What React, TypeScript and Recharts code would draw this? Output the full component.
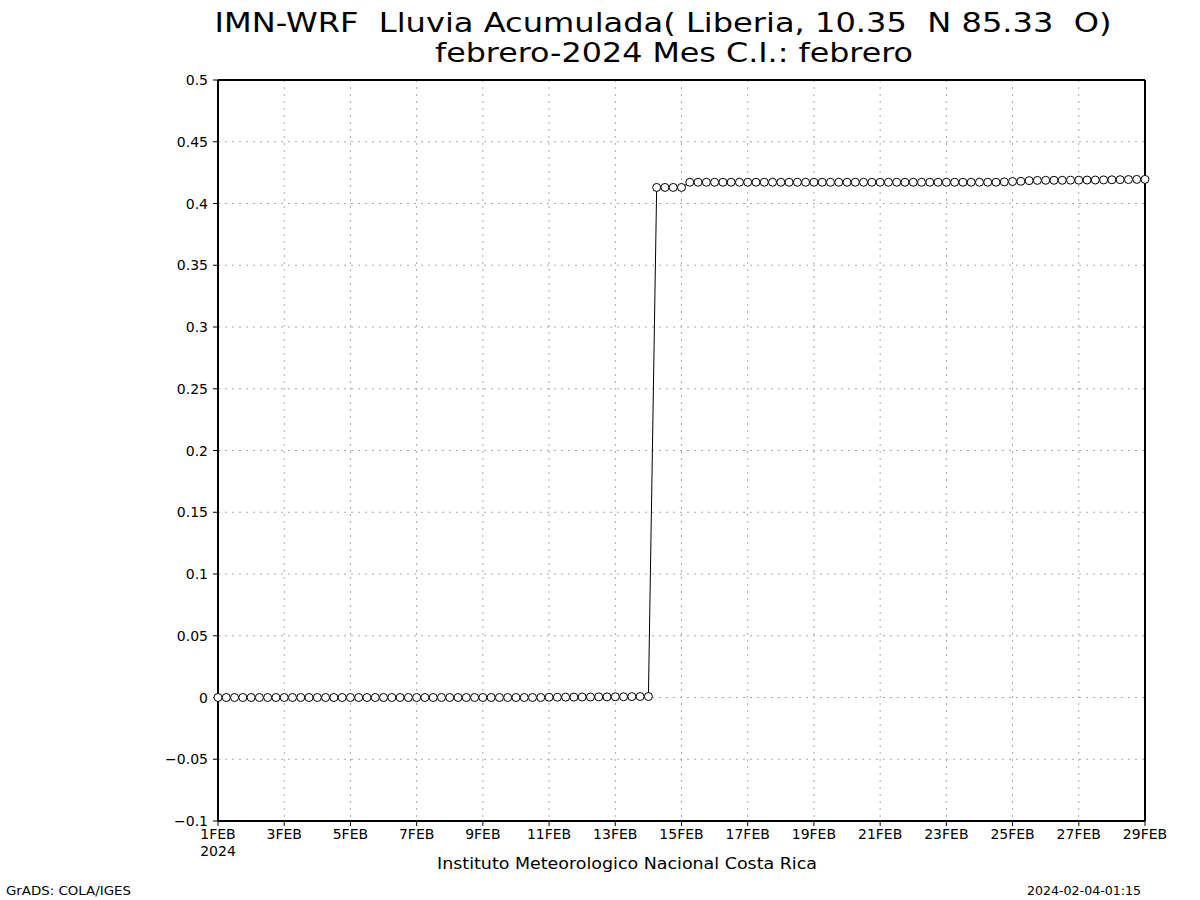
import React from 'react';
import { LineChart, Line, XAxis, YAxis, CartesianGrid, ReferenceLine } from 'recharts';

// 6-hourly accumulated rain (mm), 1FEB 00Z .. 29FEB 00Z
const rain: number[] = [
  0, 0, 0, 0, 0, 0, 0, 0, 0, 0,
  0, 0, 0, 0, 0, 0, 0, 0, 0, 0,
  0, 0, 0, 0, 0, 0, 0, 0, 0, 0,
  0, 0, 0, 0, 0, 0, 0, 0, 0, 0,
  0.0002, 0.0002, 0.0003, 0.0003, 0.0004, 0.0004, 0.0005, 0.0005, 0.0006, 0.0006,
  0.0007, 0.0008, 0.0008,
  0.413, 0.413, 0.413, 0.413,
  0.4172, 0.4172, 0.4172, 0.4172, 0.4172, 0.4172, 0.4172, 0.4172, 0.4172, 0.4172,
  0.4172, 0.4172, 0.4172, 0.4172, 0.4172, 0.4172, 0.4172, 0.4172, 0.4172, 0.4172,
  0.4172, 0.4172, 0.4172, 0.4172, 0.4172, 0.4172, 0.4172, 0.4172, 0.4172, 0.4172,
  0.4172, 0.4172, 0.4172, 0.4172, 0.4172, 0.4172, 0.4172, 0.4172, 0.4175, 0.4178,
  0.418, 0.4185, 0.4187, 0.4188, 0.4188, 0.4188, 0.4189, 0.4189, 0.419, 0.419,
  0.4191, 0.4192, 0.4193, 0.4194, 0.4195, 0.4195,
];

const xTicks = [0, 8, 16, 24, 32, 40, 48, 56, 64, 72, 80, 88, 96, 104, 112];
const xTickLabels = ['1FEB', '3FEB', '5FEB', '7FEB', '9FEB', '11FEB', '13FEB', '15FEB',
  '17FEB', '19FEB', '21FEB', '23FEB', '25FEB', '27FEB', '29FEB'];

const yTicks = [-0.1, -0.05, 0, 0.05, 0.1, 0.15, 0.2, 0.25, 0.3, 0.35, 0.4, 0.45, 0.5];
const yTickLabels = ['\u22120.1', '\u22120.05', '0', '0.05', '0.1', '0.15', '0.2', '0.25',
  '0.3', '0.35', '0.4', '0.45', '0.5'];

const data = rain.map((v, i) => ({ step: i, rain: v }));

const FONT = '"DejaVu Sans", sans-serif';

const DateTick = (props: any) => {
  const { x, y, payload } = props;
  const idx = xTicks.indexOf(payload.value);
  return (
    <g>
      <text x={x} y={y + 11} textAnchor="middle" fontFamily={FONT} fontSize={14} fill="#000">
        {xTickLabels[idx]}
      </text>
      {idx === 0 && (
        <text x={x} y={y + 28} textAnchor="middle" fontFamily={FONT} fontSize={14} fill="#000">
          2024
        </text>
      )}
    </g>
  );
};

const ValueTick = (props: any) => {
  const { x, y, payload } = props;
  const idx = yTicks.findIndex(t => Math.abs(t - payload.value) < 1e-9);
  return (
    <text x={x} y={y + 5} textAnchor="end" fontFamily={FONT} fontSize={14} fill="#000">
      {yTickLabels[idx]}
    </text>
  );
};

export default function App() {
  return (
    <div style={{ position: 'absolute', left: 0, top: 0, width: 1200, height: 900, background: '#fff' }}>
      <LineChart
        width={1200}
        height={900}
        data={data}
        margin={{ top: 80, right: 55, left: 0, bottom: 0 }}
      >
        <CartesianGrid stroke="#aaa" strokeDasharray="2 5" />
        <XAxis
          dataKey="step"
          type="number"
          domain={[0, 112]}
          ticks={xTicks}
          interval={0}
          height={79}
          tickSize={5}
          tickMargin={2}
          tickLine={{ stroke: '#000' }}
          axisLine={{ stroke: '#000', strokeWidth: 2 }}
          tick={<DateTick />}
        />
        <YAxis
          type="number"
          domain={[-0.1, 0.5]}
          ticks={yTicks}
          interval={0}
          width={218}
          tickSize={5}
          tickMargin={5}
          tickLine={{ stroke: '#000' }}
          axisLine={{ stroke: '#000', strokeWidth: 2 }}
          tick={<ValueTick />}
        />
        {/* top and right frame */}
        <ReferenceLine y={0.5} stroke="#000" strokeWidth={2} />
        <ReferenceLine x={112} stroke="#000" strokeWidth={2} />
        <Line
          dataKey="rain"
          type="linear"
          stroke="#000"
          strokeWidth={1}
          dot={{ r: 4, stroke: '#000', strokeWidth: 1, fill: '#fff' }}
          activeDot={false}
          isAnimationActive={false}
        />
      </LineChart>
      <svg width={1200} height={900} style={{ position: 'absolute', left: 0, top: 0, pointerEvents: 'none', whiteSpace: 'pre' }}>
        <text x={663} y={32} textAnchor="middle" fontFamily={FONT} fontSize={26} textLength={897} lengthAdjust="spacingAndGlyphs" fill="#000" style={{ whiteSpace: 'pre' }}>
          {'IMN-WRF  Lluvia Acumulada( Liberia, 10.35  N 85.33  O)'}
        </text>
        <text x={674} y={62} textAnchor="middle" fontFamily={FONT} fontSize={26} textLength={478} lengthAdjust="spacingAndGlyphs" fill="#000" style={{ whiteSpace: 'pre' }}>
          {'febrero-2024 Mes C.I.: febrero'}
        </text>
        <text x={627} y={869} textAnchor="middle" fontFamily={FONT} fontSize={16} textLength={380} lengthAdjust="spacingAndGlyphs" fill="#000">
          Instituto Meteorologico Nacional Costa Rica
        </text>
        <text x={6} y={895} fontFamily={FONT} fontSize={13} textLength={125} lengthAdjust="spacingAndGlyphs" fill="#000">
          GrADS: COLA/IGES
        </text>
        <text x={1141} y={895} textAnchor="end" fontFamily={FONT} fontSize={13} textLength={114} lengthAdjust="spacingAndGlyphs" fill="#000">
          2024-02-04-01:15
        </text>
      </svg>
    </div>
  );
}
